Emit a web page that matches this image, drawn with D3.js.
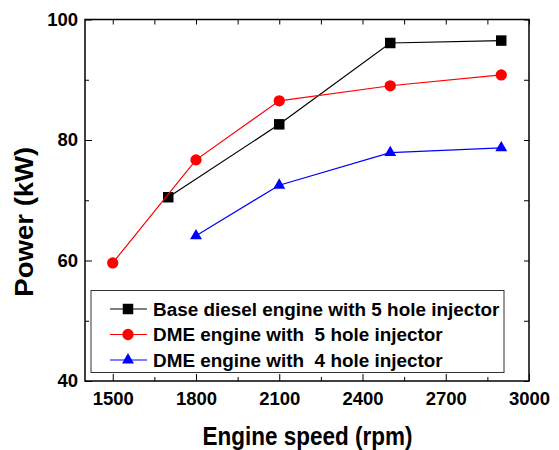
<!DOCTYPE html>
<html>
<head>
<meta charset="utf-8">
<script src="https://cdn.jsdelivr.net/npm/d3@7"></script>
<style>
  body { margin: 0; background: #fff; }
  svg text { font-family: "Liberation Sans", Arial, sans-serif; font-weight: bold; }
</style>
</head>
<body>
<svg id="chart" width="559" height="450"></svg>
<script>
'use strict';

// Data
const speedBase = [1700, 2100, 2500, 2900];
const powerBase = [70.5, 82.6, 96.1, 96.5];
const speedDme5 = [1500, 1800, 2100, 2500, 2900];
const powerDme5 = [59.6, 76.7, 86.5, 89.0, 90.8];
const speedDme4 = [1800, 2100, 2500, 2900];
const powerDme4 = [64.1, 72.5, 77.9, 78.7];

const xMajor = [1500, 1800, 2100, 2400, 2700, 3000];
const xMinor = [1650, 1950, 2250, 2550, 2850];
const yMajor = [40, 60, 80, 100];
const yMinor = [50, 70, 90];

const seriesNames = ['Base diesel engine with 5 hole injector',
                     'DME engine with  5 hole injector',
                     'DME engine with  4 hole injector'];

(function() {
    const margin = {top: 19.5, right: 30, bottom: 69, left: 85};
    const width = 559;
    const height = 450;

    const svg = d3.select('#chart');

    const xScale = d3.scaleLinear()
                        .domain([1400, 3000])
                        .range([margin.left, width - margin.right]);
    const yScale = d3.scaleLinear()
                        .domain([40, 100])
                        .range([height - margin.bottom, margin.top]);

    const series = [
        {name: seriesNames[0], x: speedBase, y: powerBase, color: '#000000', symbol: d3.symbolSquare, size: 110},
        {name: seriesNames[1], x: speedDme5, y: powerDme5, color: '#ff0000', symbol: d3.symbolCircle, size: 100},
        {name: seriesNames[2], x: speedDme4, y: powerDme4, color: '#0000ff', symbol: d3.symbolTriangle, size: 62}
    ];

    const x0 = xScale.range()[0], x1 = xScale.range()[1];
    const y0 = yScale.range()[0], y1 = yScale.range()[1];

    // Axes with inward ticks
    function styleAxis(g) {
        g.select('.domain').remove();
        g.selectAll('line').attr('stroke', '#000').attr('stroke-width', 1);
        g.selectAll('text').attr('fill', '#000').attr('font-size', '18.5px');
    }

    svg.append('g')
        .attr('transform', `translate(0, ${y0})`)
        .call(d3.axisBottom(xScale).tickValues(xMajor).tickSize(-7).tickPadding(11).tickFormat(d3.format('d')))
        .call(styleAxis);
    svg.append('g')
        .attr('transform', `translate(0, ${y0})`)
        .call(d3.axisBottom(xScale).tickValues(xMinor).tickSize(-4).tickFormat(''))
        .call(styleAxis);
    svg.append('g')
        .attr('transform', `translate(0, ${y1})`)
        .call(d3.axisTop(xScale).tickValues(xMajor.concat(xMinor)).tickSize(-5).tickFormat(''))
        .call(styleAxis);

    svg.append('g')
        .attr('transform', `translate(${x0}, 0)`)
        .call(d3.axisLeft(yScale).tickValues(yMajor).tickSize(-7).tickPadding(7))
        .call(styleAxis);
    svg.append('g')
        .attr('transform', `translate(${x0}, 0)`)
        .call(d3.axisLeft(yScale).tickValues(yMinor).tickSize(-4).tickFormat(''))
        .call(styleAxis);
    svg.append('g')
        .attr('transform', `translate(${x1}, 0)`)
        .call(d3.axisRight(yScale).tickValues(yMajor.concat(yMinor)).tickSize(-5).tickFormat(''))
        .call(styleAxis);

    // Frame
    svg.append('rect')
        .attr('x', x0).attr('y', y1)
        .attr('width', x1 - x0).attr('height', y0 - y1)
        .attr('fill', 'none')
        .attr('stroke', '#000')
        .attr('stroke-width', 1.5);

    // Lines and markers
    const line = d3.line()
                    .x(d => xScale(d[0]))
                    .y(d => yScale(d[1]));

    series.forEach(s => {
        const pts = s.x.map((v, i) => [v, s.y[i]]);
        svg.append('path')
            .datum(pts)
            .attr('fill', 'none')
            .attr('stroke', s.color)
            .attr('stroke-width', 1.2)
            .attr('d', line);
        svg.append('g').selectAll('path')
            .data(pts)
            .enter()
            .append('path')
            .attr('transform', d => `translate(${xScale(d[0])}, ${yScale(d[1])})`)
            .attr('d', d3.symbol().type(s.symbol).size(s.size))
            .attr('fill', s.color);
    });

    // Legend
    const legend = svg.append('g');
    legend.append('rect')
        .attr('x', 91).attr('y', 290.5)
        .attr('width', 413).attr('height', 82)
        .attr('fill', '#fff')
        .attr('stroke', '#333')
        .attr('stroke-width', 1);

    series.forEach((s, i) => {
        const cy = 309 + i * 25.5;
        legend.append('line')
            .attr('x1', 110).attr('x2', 147)
            .attr('y1', cy).attr('y2', cy)
            .attr('stroke', s.color)
            .attr('stroke-width', 1.2);
        legend.append('path')
            .attr('transform', `translate(128, ${cy})`)
            .attr('d', d3.symbol().type(s.symbol).size(s.size))
            .attr('fill', s.color);
        legend.append('text')
            .attr('x', 153)
            .attr('y', cy + 6.7)
            .attr('font-size', '18.9px')
            .style('white-space', 'pre')
            .attr('fill', '#000')
            .text(s.name);
    });

    // Axis titles
    svg.append('text')
        .attr('x', 307.5)
        .attr('y', 445)
        .attr('text-anchor', 'middle')
        .attr('font-size', '25px')
        .attr('textLength', 210)
        .attr('lengthAdjust', 'spacingAndGlyphs')
        .text('Engine speed (rpm)');

    svg.append('text')
        .attr('transform', 'translate(33, 221.7) rotate(-90)')
        .attr('text-anchor', 'middle')
        .attr('font-size', '25px')
        .attr('textLength', 150)
        .attr('lengthAdjust', 'spacingAndGlyphs')
        .text('Power (kW)');
})();
</script>
</body>
</html>
